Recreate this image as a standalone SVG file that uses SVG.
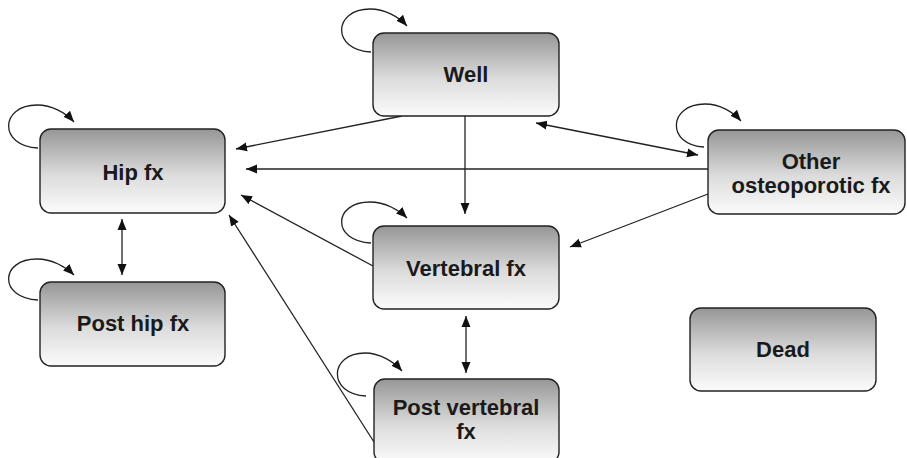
<svg xmlns="http://www.w3.org/2000/svg" width="907" height="458" viewBox="0 0 907 458">
<style>
.box{fill:url(#g);stroke:#222;stroke-width:1.4}
.lbl{font-family:"Liberation Sans",Arial,sans-serif;font-weight:bold;font-size:22px;fill:#1a1a1a;text-anchor:middle}
.c{fill:none;stroke:#222;stroke-width:1.3}
.a{marker-end:url(#ah)}
.d{marker-start:url(#ah);marker-end:url(#ah)}
</style>
<defs>
<linearGradient id="g" x1="0" y1="0" x2="0" y2="1">
<stop offset="0" stop-color="#969696"/>
<stop offset="0.55" stop-color="#dcdcdc"/>
<stop offset="1" stop-color="#fbfbfb"/>
</linearGradient>
<marker id="ah" markerUnits="userSpaceOnUse" markerWidth="12" markerHeight="10" refX="11" refY="4.5" orient="auto-start-reverse" viewBox="0 0 12 9">
<path d="M0,0 L11,4.5 L0,9 z" fill="#111"/>
</marker>
</defs>
<rect width="907" height="458" fill="#fff"/>
<g id="connectors">
<path class="c a" d="M371,52 C331,50 333,9 370,9 C385,9 399,17 407,26"/>
<path class="c a" d="M38,148 C-2,146 0,105 37,105 C52,105 66,113 74,122"/>
<path class="c a" d="M704,147 C666,145 668,104 705,104 C720,104 733,112 741,121"/>
<path class="c a" d="M371,243 C331,241 333,202 370,202 C385,202 399,210 407,218"/>
<path class="c a" d="M38,300 C-2,298 0,259 37,259 C52,259 66,267 74,275"/>
<path class="c a" d="M366,396 C327,394 329,353 365,353 C380,353 394,362 402,371"/>
<line class="c a" x1="402" y1="116" x2="236" y2="149"/>
<line class="c a" x1="708" y1="169" x2="246" y2="169"/>
<line class="c a" x1="373" y1="266" x2="241" y2="195"/>
<line class="c a" x1="374" y1="442" x2="229" y2="215"/>
<line class="c a" x1="465" y1="116" x2="465" y2="214"/>
<line class="c d" x1="536" y1="123" x2="698" y2="155"/>
<line class="c a" x1="708" y1="194" x2="570" y2="247"/>
<line class="c d" x1="122" y1="219" x2="122" y2="275"/>
<line class="c d" x1="466" y1="316" x2="466" y2="373"/>
</g>
<g id="well">
<rect class="box" x="373" y="33" width="186" height="83" rx="11"/>
<text class="lbl" x="466" y="82">Well</text>
</g>
<g id="hip">
<rect class="box" x="40" y="129" width="185" height="84" rx="11"/>
<text class="lbl" x="133" y="180">Hip fx</text>
</g>
<g id="other">
<rect class="box" x="708" y="130" width="197" height="84" rx="11"/>
<text class="lbl" x="811" y="169">Other</text>
<text class="lbl" x="811" y="193">osteoporotic fx</text>
</g>
<g id="posthip">
<rect class="box" x="40" y="282" width="185" height="84" rx="11"/>
<text class="lbl" x="133" y="331">Post hip fx</text>
</g>
<g id="vertebral">
<rect class="box" x="373" y="226" width="186" height="83" rx="11"/>
<text class="lbl" x="466" y="276">Vertebral fx</text>
</g>
<g id="postvertebral">
<rect class="box" x="374" y="379" width="185" height="84" rx="11"/>
<text class="lbl" x="466" y="415">Post vertebral</text>
<text class="lbl" x="466" y="439">fx</text>
</g>
<g id="dead">
<rect class="box" x="690" y="308" width="186" height="83" rx="11"/>
<text class="lbl" x="783" y="357">Dead</text>
</g>
</svg>
